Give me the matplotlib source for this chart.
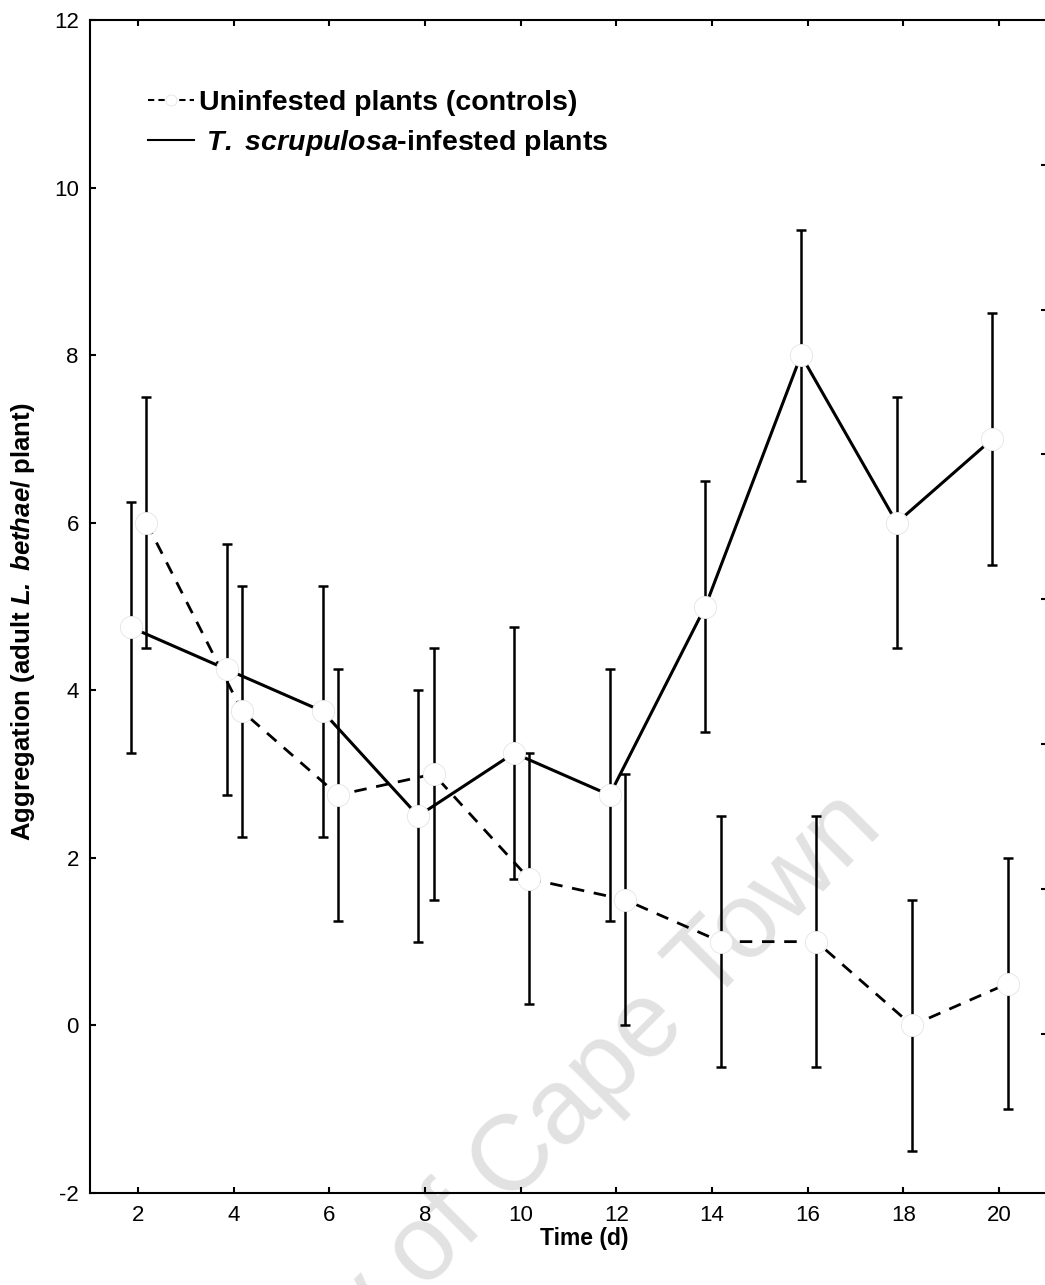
import numpy as np
import matplotlib
matplotlib.use("Agg")
import matplotlib.pyplot as plt
from matplotlib.lines import Line2D

# ==========================================
# DATA
# ==========================================

days = [2, 4, 6, 8, 10, 12, 14, 16, 18, 20]

control_mean = [6.0, 3.75, 2.75, 3.0, 1.75, 1.5, 1.0, 1.0, 0.0, 0.5]
control_se = [1.5, 1.5, 1.5, 1.5, 1.5, 1.5, 1.5, 1.5, 1.5, 1.5]

infested_mean = [4.75, 4.25, 3.75, 2.5, 3.25, 2.75, 5.0, 8.0, 6.0, 7.0]
infested_se = [1.5, 1.5, 1.5, 1.5, 1.5, 1.5, 1.5, 1.5, 1.5, 1.5]

labels = [
    "Uninfested plants (controls)",
    r" $\mathbfit{T.\ scrupulosa}$-infested plants",
]

# ==========================================
# STYLE
# ==========================================

plt.rcParams["font.family"] = ["Liberation Sans", "DejaVu Sans"]
plt.rcParams["axes.unicode_minus"] = False
plt.rcParams["mathtext.fontset"] = "custom"
plt.rcParams["mathtext.rm"] = "Liberation Sans"
plt.rcParams["mathtext.bf"] = "Liberation Sans:bold"
plt.rcParams["mathtext.bfit"] = "Liberation Sans:bold:italic"
plt.rcParams["mathtext.it"] = "Liberation Sans:italic"

fig = plt.figure(figsize=(10.45, 12.85), dpi=100)
ax = fig.add_axes([0.0861, 0.0716, 0.9158, 0.9128])

x = np.array(days, dtype=float)

marker_kw = dict(
    marker="o",
    markersize=16,
    markerfacecolor="white",
    markeredgecolor="#e4e4e4",
    markeredgewidth=0.6,
)

# controls: dashed, shifted right
ax.errorbar(
    x + 0.18, control_mean, yerr=control_se,
    fmt="none", ecolor="black", elinewidth=1.8,
    capsize=3.5, capthick=1.8, zorder=2
)
ax.plot(
    x + 0.18, control_mean, color="black", linewidth=2.0,
    linestyle=(0, (4.5, 3.5)), zorder=3
)
ax.plot(x + 0.18, control_mean, linestyle="none", zorder=4, **marker_kw)

# infested: solid, shifted left
ax.errorbar(
    x - 0.14, infested_mean, yerr=infested_se,
    fmt="none", ecolor="black", elinewidth=1.8,
    capsize=3.5, capthick=1.8, zorder=2
)
ax.plot(x - 0.14, infested_mean, color="black", linewidth=2.2, zorder=3)
ax.plot(x - 0.14, infested_mean, linestyle="none", zorder=4, **marker_kw)

# ==========================================
# AXES
# ==========================================

ax.set_xlim(1, 21)
ax.set_ylim(-2, 12)
ax.set_xticks(days)
ax.set_yticks([-2, 0, 2, 4, 6, 8, 10, 12])

for side in ["left", "bottom", "top", "right"]:
    ax.spines[side].set_linewidth(1.5)

ax.tick_params(
    axis="both", direction="in", length=4, width=1.5,
    labelsize=16, top=True
)
ax.tick_params(axis="x", pad=9)
ax.tick_params(axis="y", pad=8)

# unlabelled ticks on the right edge
ax2 = ax.twinx()
ax2.set_ylim(-0.1, 8.0)
ax2.set_yticks([1, 2, 3, 4, 5, 6, 7])
ax2.tick_params(axis="y", direction="in", length=4, width=1.5, labelright=False)
for side in ["left", "bottom", "top", "right"]:
    ax2.spines[side].set_visible(False)

ax.set_xlabel("Time (d)", fontsize=16.5, fontweight="bold")
ax.xaxis.set_label_coords(0.517, -0.029)

ax.set_ylabel(
    r"Aggregation (adult $\mathbfit{L.\ bethae}$/ plant)",
    fontsize=18.5, fontweight="bold"
)
ax.yaxis.set_label_coords(-0.055, 0.487)

# ==========================================
# LEGEND
# ==========================================

handles = [
    Line2D([], [], color="black", linewidth=1.5, linestyle=(0, (3, 2)), **marker_kw),
    Line2D([], [], color="black", linewidth=1.5),
]
handles[0].set_markersize(8)

ax.legend(
    handles, labels,
    loc="upper left", bbox_to_anchor=(0.0606, 0.940),
    frameon=False, borderaxespad=0, borderpad=0,
    handlelength=1.6, handletextpad=0.2, labelspacing=0.4,
    prop={"size": 20.5, "weight": "bold"}
)

# ==========================================
# WATERMARK
# ==========================================

ax.text(
    885, 1285 - 830, "University of Cape Town",
    transform=None, fontsize=77, color="#e2e2e2",
    rotation=45, rotation_mode="anchor",
    ha="right", va="baseline", zorder=0
)

fig.savefig("out.png", dpi=100)
